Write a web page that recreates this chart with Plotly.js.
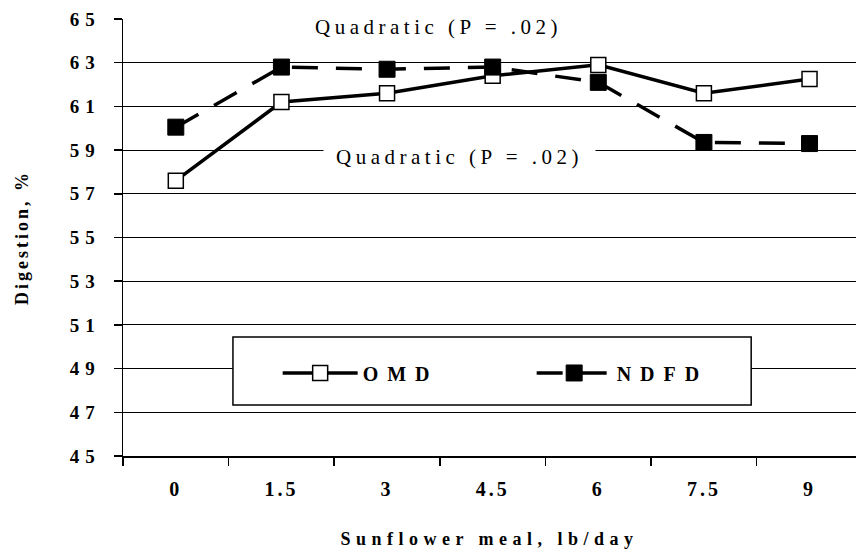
<!DOCTYPE html>
<html>
<head>
<meta charset="utf-8">
<script src="https://cdn.plot.ly/plotly-3.0.1.min.js"></script>
<style>
  html, body { margin: 0; padding: 0; background: #fff; }
  #chart { width: 856px; height: 553px; }
  .annotation-text { letter-spacing: 4.5px; }
  .legendtext { letter-spacing: 9px; }
  g.ytick text { letter-spacing: 6px; }
  g.xtick text { letter-spacing: 3px; }
  .xtitle { letter-spacing: 5.5px; }
  .ytitle { letter-spacing: 3px; }
</style>
</head>
<body>
<div id="chart"></div>
<script>
const categories = ["0", "1.5", "3", "4.5", "6", "7.5", "9"];
const omd  = [57.6, 61.2, 61.6, 62.4, 62.9, 61.6, 62.25];
const ndfd = [60.05, 62.8, 62.7, 62.8, 62.1, 59.35, 59.3];
const yTicks = [45, 47, 49, 51, 53, 55, 57, 59, 61, 63, 65];
const noteText = "Quadratic (P = .02)";

const serif = "Liberation Serif, Times New Roman, serif";

const traces = [
  {
    x: categories, y: omd, name: "OMD", type: "scatter", mode: "lines+markers",
    line: { color: "#000", width: 3.5 },
    marker: { symbol: "square", size: 15, color: "#fff", line: { color: "#000", width: 1.5 } }
  },
  {
    x: categories, y: ndfd, name: "NDFD", type: "scatter", mode: "lines+markers",
    line: { color: "#000", width: 3.5, dash: "26px,18px" },
    marker: { symbol: "square", size: 16, color: "#000", line: { color: "#000", width: 1 } }
  }
];

const layout = {
  width: 856, height: 553,
  margin: { l: 123, r: 0, t: 19, b: 97 },
  paper_bgcolor: "#fff", plot_bgcolor: "#fff",
  showlegend: true,
  legend: {
    orientation: "h", x: 0.211, y: 0.19, xanchor: "left", yanchor: "middle",
    bgcolor: "rgba(0,0,0,0)", borderwidth: 0,
    font: { family: serif, size: 20, color: "#000", weight: "bold" },
    entrywidth: 164, itemwidth: 75
  },
  xaxis: {
    type: "category", range: [-0.5, 6.44],
    showgrid: false, zeroline: false,
    showline: true, linecolor: "#000", linewidth: 1.5,
    ticks: "outside", tickson: "boundaries", ticklen: 8, tickwidth: 1.5, tickcolor: "#000",
    tickfont: { family: serif, size: 20, color: "#000", weight: "bold" },
    ticklabelstandoff: 14,
    title: { text: "Sunflower meal, lb/day", font: { family: serif, size: 18, color: "#000", weight: "bold" }, standoff: 34 }
  },
  yaxis: {
    range: [45, 65], tickvals: yTicks, ticktext: yTicks.map(String),
    showgrid: true, gridcolor: "#000", gridwidth: 1.2, zeroline: false,
    showline: true, linecolor: "#000", linewidth: 1.5,
    ticks: "outside", ticklen: 8, tickwidth: 1.5, tickcolor: "#000",
    tickfont: { family: serif, size: 19, color: "#000", weight: "bold" },
    ticklabelstandoff: 9,
    title: { text: "Digestion, %", font: { family: serif, size: 18, color: "#000", weight: "bold" }, standoff: 36 }
  },
  shapes: [
    { type: "rect", xref: "paper", yref: "paper", x0: 0.150, x1: 0.857, y0: 0.1167, y1: 0.2723,
      line: { color: "#000", width: 1.5 }, fillcolor: "#fff", layer: "above" }
  ],
  annotations: [
    { x: 2.49, y: 64.63, xref: "x", yref: "y", text: noteText, showarrow: false,
      font: { family: serif, size: 21, color: "#000" }, bgcolor: "#fff", borderpad: 12 },
    { x: 2.69, y: 58.67, xref: "x", yref: "y", text: noteText, showarrow: false,
      font: { family: serif, size: 21, color: "#000" }, bgcolor: "#fff", borderpad: 12 }
  ]
};

Plotly.newPlot("chart", traces, layout, { displayModeBar: false, staticPlot: true });
</script>
</body>
</html>
